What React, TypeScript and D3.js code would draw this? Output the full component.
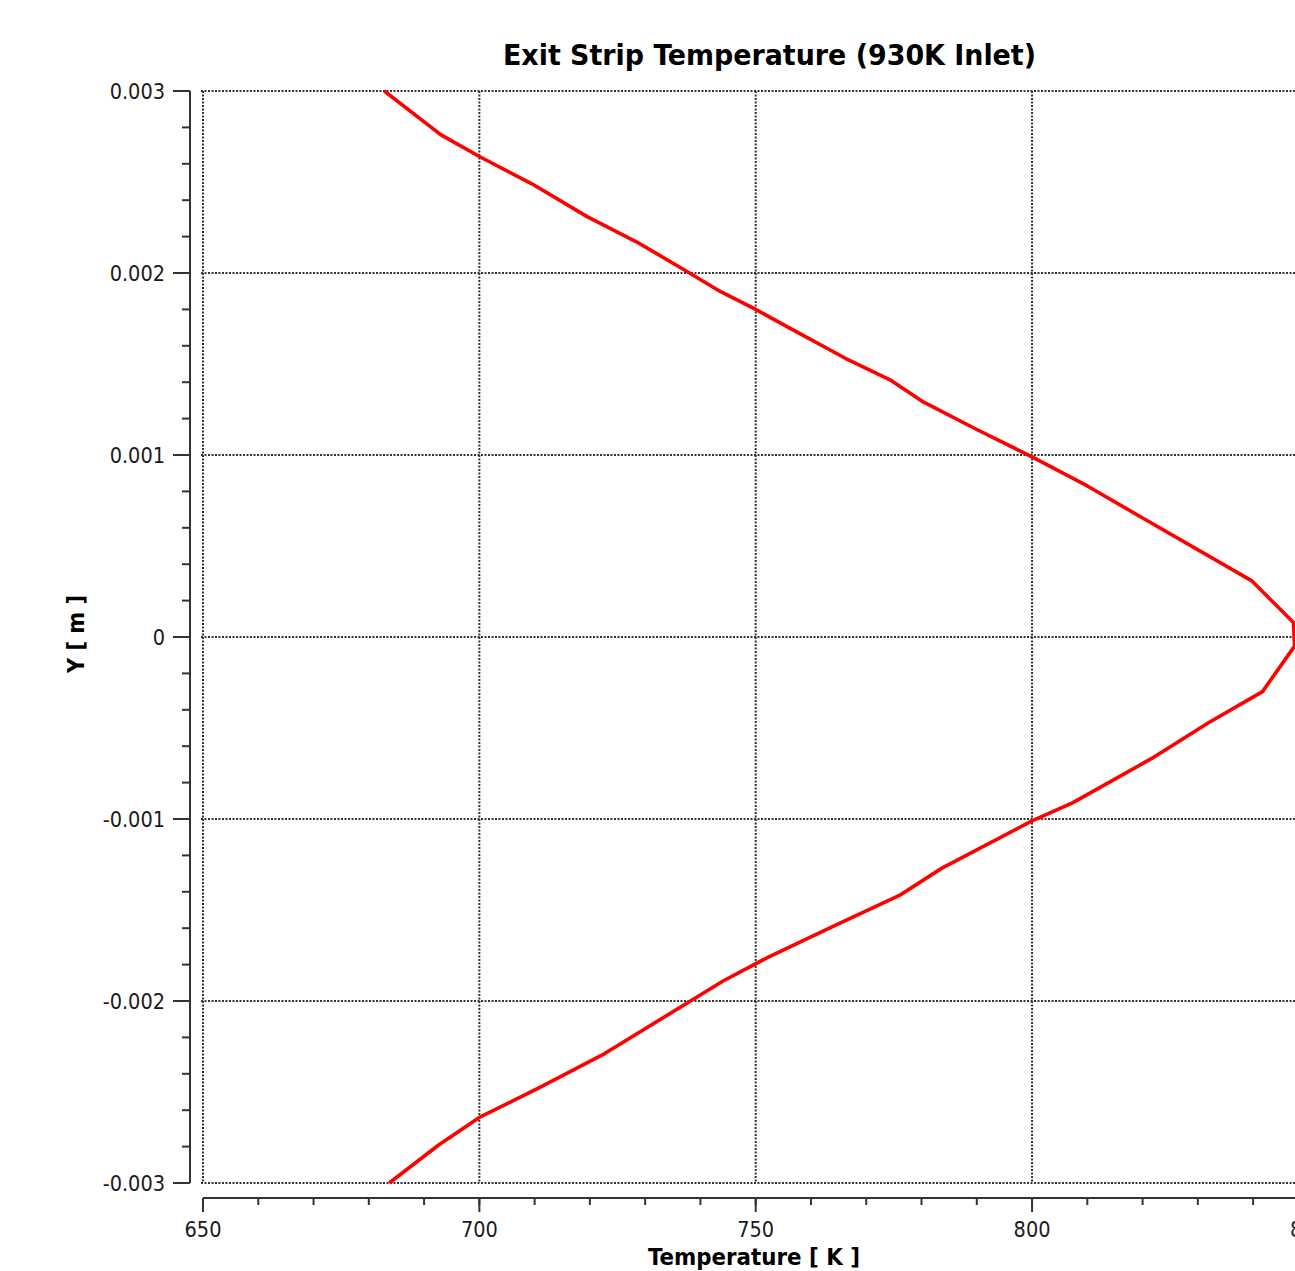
import React, { useEffect, useRef } from "react";
import * as d3 from "d3";

// temperature profile across the strip at exit (top to bottom)
const temperature = [
  682.8, 693.0, 700.0, 709.5, 719.5, 728.5, 737.5, 743.5, 750.0, 756.0,
  766.3, 774.5, 780.4, 790.0, 800.0, 810.0, 820.8, 839.7, 847.3, 847.5,
  841.7, 832.0, 821.5, 807.4, 800.0, 783.7, 776.0, 764.0, 752.2, 744.1,
  738.2, 722.6, 710.6, 700.0, 692.7, 683.7,
];
const yPos = [
  0.003, 0.00276, 0.00264, 0.00249, 0.00231, 0.00217, 0.00201, 0.0019, 0.0018, 0.0017,
  0.00153, 0.00141, 0.00129, 0.00114, 0.00099, 0.00083, 0.00064, 0.00031, 0.00008, -0.00005,
  -0.0003, -0.00047, -0.00067, -0.00091, -0.00101, -0.00127, -0.00142, -0.00159, -0.00176, -0.00189,
  -0.002, -0.00229, -0.00248, -0.00264, -0.00279, -0.003,
];

const xTicks = [650, 700, 750, 800, 850];
const yTicks = [-0.003, -0.002, -0.001, 0, 0.001, 0.002, 0.003];
const yTickLabels = ["-0.003", "-0.002", "-0.001", "0", "0.001", "0.002", "0.003"];

const title = "Exit Strip Temperature (930K Inlet)";
const xTitle = "Temperature [ K ]";
const yTitle = "Y [ m ]";

const W = 1295;
const H = 1271;
const FONT = "'DejaVu Sans Condensed', 'DejaVu Sans', sans-serif";

export default function App() {
  const ref = useRef<SVGSVGElement>(null);

  useEffect(() => {
    const svg = d3.select(ref.current);
    svg.selectAll("*").remove();

    const x = d3.scaleLinear().domain([650, 850]).range([203, 1308.4]);
    const y = d3.scaleLinear().domain([-0.003, 0.003]).range([1183, 91]);
    const yAxisX = 190;
    const xAxisY = 1198;

    // dotted grid
    const grid = svg.append("g")
      .attr("stroke", "#333")
      .attr("stroke-width", 2)
      .attr("stroke-dasharray", "2 1.5");
    grid.selectAll("line.v")
      .data(xTicks)
      .enter().append("line")
      .attr("x1", d => x(d)).attr("x2", d => x(d))
      .attr("y1", y(0.003)).attr("y2", y(-0.003));
    grid.selectAll("line.h")
      .data(yTicks)
      .enter().append("line")
      .attr("x1", x(650) - 2).attr("x2", x(850))
      .attr("y1", d => y(d)).attr("y2", d => y(d));

    // y axis
    const yMinor = d3.range(-0.003, 0.003 + 1e-9, 0.0002);
    const ya = svg.append("g").attr("stroke", "#333").attr("stroke-width", 2);
    ya.append("line")
      .attr("x1", yAxisX).attr("x2", yAxisX)
      .attr("y1", y(0.003)).attr("y2", y(-0.003));
    ya.selectAll("line.minor")
      .data(yMinor)
      .enter().append("line")
      .attr("x1", yAxisX - 8).attr("x2", yAxisX)
      .attr("y1", d => y(d)).attr("y2", d => y(d));
    ya.selectAll("line.major")
      .data(yTicks)
      .enter().append("line")
      .attr("x1", yAxisX - 17).attr("x2", yAxisX)
      .attr("y1", d => y(d)).attr("y2", d => y(d));
    svg.append("g").selectAll("text")
      .data(yTicks)
      .enter().append("text")
      .attr("x", 165)
      .attr("y", d => y(d))
      .attr("dy", "0.36em")
      .attr("text-anchor", "end")
      .attr("font-family", FONT)
      .attr("font-size", 21.5)
      .attr("fill", "#1a1a1a")
      .text((d, i) => yTickLabels[i]);

    // x axis
    const xMinor = d3.range(650, 851, 10);
    const xa = svg.append("g").attr("stroke", "#333").attr("stroke-width", 2);
    xa.append("line")
      .attr("x1", x(650)).attr("x2", x(850))
      .attr("y1", xAxisY).attr("y2", xAxisY);
    xa.selectAll("line.minor")
      .data(xMinor)
      .enter().append("line")
      .attr("x1", d => x(d)).attr("x2", d => x(d))
      .attr("y1", xAxisY).attr("y2", xAxisY + 7);
    xa.selectAll("line.major")
      .data(xTicks)
      .enter().append("line")
      .attr("x1", d => x(d)).attr("x2", d => x(d))
      .attr("y1", xAxisY).attr("y2", xAxisY + 14);
    svg.append("g").selectAll("text")
      .data(xTicks)
      .enter().append("text")
      .attr("x", d => x(d))
      .attr("y", 1237)
      .attr("text-anchor", "middle")
      .attr("font-family", FONT)
      .attr("font-size", 21.5)
      .attr("fill", "#1a1a1a")
      .text(d => String(d));

    // curve
    const pts = temperature.map((t, i) => [t, yPos[i]] as [number, number]);
    svg.append("path")
      .datum(pts)
      .attr("fill", "none")
      .attr("stroke", "#ff0000")
      .attr("stroke-width", 3.6)
      .attr("stroke-linejoin", "round")
      .attr("d", d3.line<[number, number]>().x(d => x(d[0])).y(d => y(d[1])));

    // titles
    svg.append("text")
      .attr("x", 769.5).attr("y", 65)
      .attr("text-anchor", "middle")
      .attr("font-family", FONT)
      .attr("font-weight", "bold")
      .attr("font-size", 28)
      .attr("textLength", 533)
      .attr("lengthAdjust", "spacingAndGlyphs")
      .attr("fill", "#000")
      .text(title);
    svg.append("text")
      .attr("x", 754).attr("y", 1265)
      .attr("text-anchor", "middle")
      .attr("font-family", FONT)
      .attr("font-weight", "bold")
      .attr("font-size", 23)
      .attr("textLength", 212)
      .attr("lengthAdjust", "spacingAndGlyphs")
      .attr("fill", "#000")
      .text(xTitle);
    svg.append("text")
      .attr("transform", "translate(84,634) rotate(-90)")
      .attr("text-anchor", "middle")
      .attr("font-family", FONT)
      .attr("font-weight", "bold")
      .attr("font-size", 23)
      .attr("textLength", 78)
      .attr("lengthAdjust", "spacingAndGlyphs")
      .attr("fill", "#000")
      .text(yTitle);
  }, []);

  return (
    <svg
      ref={ref}
      width={W}
      height={H}
      style={{ position: "absolute", left: 0, top: 0, background: "#fff" }}
    />
  );
}
